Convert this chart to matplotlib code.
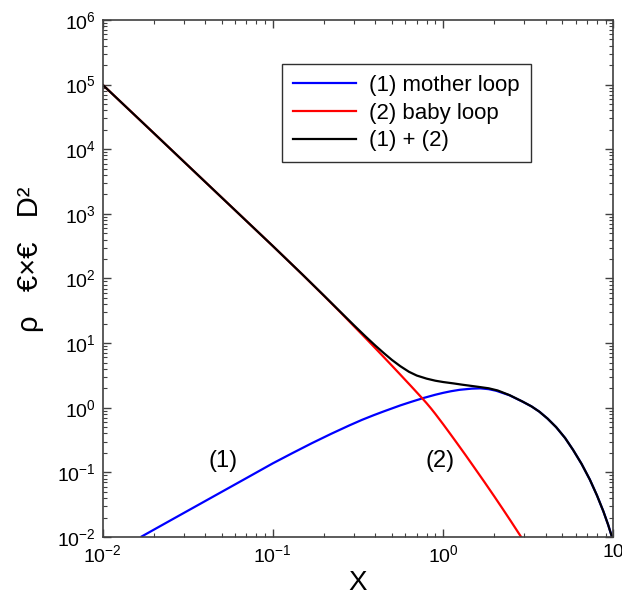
import matplotlib
matplotlib.use("Agg")
import matplotlib.pyplot as plt
from matplotlib.ticker import FixedLocator, FixedFormatter, LogLocator, NullFormatter

plt.rcParams['font.family'] = ['Liberation Sans', 'DejaVu Sans']
plt.rcParams['mathtext.fontset'] = 'custom'
plt.rcParams['mathtext.rm'] = 'Liberation Sans'
plt.rcParams['mathtext.it'] = 'Liberation Sans:italic'
plt.rcParams['mathtext.bf'] = 'Liberation Sans:bold'

# values
mother_x = [0.017, 0.025, 0.035, 0.05, 0.07, 0.1, 0.13, 0.17, 0.22, 0.28, 0.334, 0.39,
            0.449, 0.5, 0.562, 0.65, 0.77, 0.9, 1.0, 1.11, 1.25, 1.47, 1.65, 1.85,
            2.05, 2.45, 2.92, 3.3, 3.67, 4.1, 4.61, 5.2, 5.79, 6.5, 7.27, 8.0, 8.72,
            9.3, 9.8]
mother_y = [0.0102, 0.018, 0.0295, 0.0498, 0.0816, 0.138, 0.198, 0.284, 0.395, 0.53, 0.65, 0.765,
            0.88, 0.975, 1.09, 1.235, 1.42, 1.59, 1.70, 1.80, 1.895, 1.975, 1.995, 1.94,
            1.83, 1.56, 1.245, 1.05, 0.87, 0.68, 0.50, 0.34, 0.223, 0.135, 0.077, 0.044, 0.025,
            0.0155, 0.01]

baby_x = [0.01, 0.02, 0.05, 0.1, 0.15, 0.2, 0.25, 0.3, 0.35, 0.4, 0.45, 0.5, 0.56,
          0.6, 0.65, 0.7, 0.75, 0.8, 0.85, 0.9, 1.0, 1.1, 1.2, 1.35, 1.5, 1.75,
          2.0, 2.25, 2.5, 2.85, 3.0]
baby_y = [1e5, 17760, 1797, 318, 113.5, 53.7, 29.8, 18.2, 12.0, 8.32, 6.01, 4.48, 3.26,
          2.68, 2.14, 1.73, 1.42, 1.174, 0.970, 0.802, 0.556, 0.395, 0.288, 0.187, 0.126, 0.0705,
          0.0422, 0.0266, 0.0175, 0.0103, 0.0084]

total_x = [0.01, 0.02, 0.05, 0.1, 0.15, 0.2, 0.25, 0.3, 0.35, 0.4, 0.45, 0.5, 0.56,
           0.63, 0.7, 0.8, 0.9, 1.0, 1.15, 1.3, 1.6, 1.85, 2.09, 2.45, 2.92, 3.3,
           3.67, 4.1, 4.61, 5.2, 5.79, 6.5, 7.27, 8.0, 8.72, 9.3, 9.8]
total_y = [1e5, 17760, 1797, 318, 113.7, 54.1, 30.2, 18.8, 12.7, 9.15, 6.95, 5.5, 4.4,
           3.6, 3.15, 2.82, 2.62, 2.5, 2.38, 2.27, 2.11, 2.0, 1.85, 1.57, 1.25, 1.05,
           0.87, 0.68, 0.5, 0.34, 0.223, 0.135, 0.077, 0.044, 0.025, 0.0155, 0.01]

x_ticks = [1e-2, 1e-1, 1e0, 1e1]
x_labels = [r'$10^{-2}$', r'$10^{-1}$', r'$10^{0}$', '10']
y_ticks = [1e-2, 1e-1, 1e0, 1e1, 1e2, 1e3, 1e4, 1e5, 1e6]
y_labels = [r'$10^{-2}$', r'$10^{-1}$', r'$10^{0}$', r'$10^{1}$', r'$10^{2}$',
            r'$10^{3}$', r'$10^{4}$', r'$10^{5}$', r'$10^{6}$']

fig = plt.figure(figsize=(6.22, 6.0), dpi=100)
ax = fig.add_axes([0.1648, 0.105, 0.8215, 0.8617])

ax.plot(mother_x, mother_y, color='#0000ff', lw=1.6, label='(1) mother loop')
ax.plot(baby_x, baby_y, color='#ff0000', lw=1.6, label='(2) baby loop')
ax.plot(total_x, total_y, color='black', lw=1.6, label='(1) + (2)')

ax.set_xscale('log')
ax.set_yscale('log')
ax.set_xlim(1e-2, 10)
ax.set_ylim(1e-2, 1e6)

ax.xaxis.set_major_locator(FixedLocator(x_ticks))
ax.xaxis.set_major_formatter(FixedFormatter(x_labels))
ax.yaxis.set_major_locator(FixedLocator(y_ticks))
ax.yaxis.set_major_formatter(FixedFormatter(y_labels))
ax.xaxis.set_minor_locator(LogLocator(base=10, subs=range(2, 10), numticks=20))
ax.yaxis.set_minor_locator(LogLocator(base=10, subs=range(2, 10), numticks=20))
ax.xaxis.set_minor_formatter(NullFormatter())
ax.yaxis.set_minor_formatter(NullFormatter())

ax.tick_params(which='both', direction='in', top=True, right=True, color='#404040')
ax.tick_params(which='major', length=6, width=1.0, labelsize=14, pad=5)
ax.tick_params(which='minor', length=3, width=0.8)
for sp in ax.spines.values():
    sp.set_color('#404040')
    sp.set_linewidth(1.2)

ax.set_xlabel('X', fontsize=20, labelpad=3)
ax.set_ylabel('ρ   €×€   D²', fontsize=21)
ax.yaxis.set_label_coords(-0.115, 0.538)

ax.text(0.051, 0.149, '(1)', fontsize=17, ha='center', va='center')
ax.text(0.96, 0.151, '(2)', fontsize=17, ha='center', va='center')

leg = ax.legend(loc='upper left', bbox_to_anchor=(0.352, 0.915), borderaxespad=0,
                fontsize=16, handlelength=2.8, handletextpad=0.6, labelspacing=0.3,
                borderpad=0.5, fancybox=False, framealpha=1)
leg.get_frame().set_edgecolor('#303030')
leg.get_frame().set_linewidth(1.0)

fig.savefig('out.png', dpi=100)
